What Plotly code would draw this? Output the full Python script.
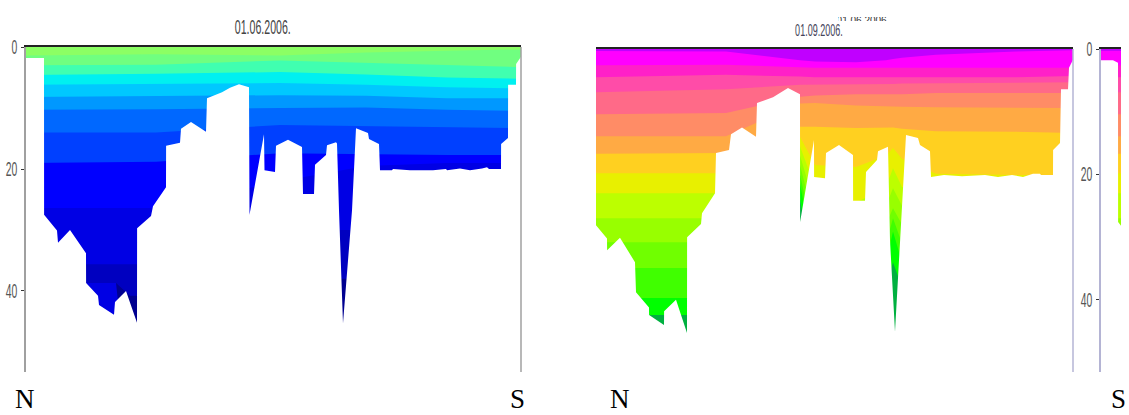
import plotly.graph_objects as go

W, H = 1129, 415

# ---------- data ----------
title_june = "01.06.2006."
title_sept = "01.09.2006."
title_fragment = "01.06.2006."
depth_ticks = [0, 20, 40]

# June section: along-track distance and bottom depth
june_dist = [0,18,18.1,31,32,44,60,60.1,72,73,88,89,100,111,111.1,125,127,140,140.1,154,155,165,180,181,196,204,213,223,223.5,238,238.5,249,250,262,276,277,288,289,300,301,310,311,313,317,326,330,342,343,353,354,366,367,384,407,420,421,434,444,456,461,463,475,475.1,482,482.1,490,490.1,495]
june_bottom = [1.8,1.8,27.5,30.1,32.1,30,33.8,38.7,40.8,42.3,43.9,41.8,40,45.2,29.7,27.7,26.1,23,16.2,15.7,13.4,12.3,13.9,8.4,7.4,6.7,6.1,6.6,27.5,14.3,20.2,20.5,16.2,15.2,16.4,24.1,24.1,19.3,17.7,16.1,15.6,15.8,26.8,45.3,26.8,13.3,14.1,15.1,15.9,20.2,20.2,20,20.2,20.2,20,20.2,19.9,20.2,19.9,19.7,20,20,15.9,14.9,6.2,6.2,2.8,1.6]

# June colour bands: lower depth of each band at reference distances
june_band_dist = [0,90,104,130,254,340,421,495]
june_colors = ["#8CFF64","#70FF80","#40FFB0","#00F0F0","#00C8FF","#0098FF","#0068FF","#0040FF","#0000FF","#0000E4","#0000C0","#000090","#0000E4"]
june_bands = [
    [1.4,1.3,1.3,1.2,1.4,0.9,0.6,0.4],
    [3.0,3.0,2.9,2.9,2.2,2.6,3.0,3.3],
    [4.6,4.5,4.4,4.4,4.1,4.5,5.0,5.2],
    [6.2,6.1,6.0,6.0,5.9,6.2,6.6,6.8],
    [8.2,8.1,8.0,8.0,7.9,8.0,8.4,8.4],
    [10.3,10.3,10.2,10.2,10.0,9.9,10.3,10.5],
    [14.0,14.0,14.0,14.0,12.8,13.0,13.1,13.3],
    [19,18.9,18.8,18.8,17.4,17.6,17.7,17.7],
    [26.4,26.4,26.4,26.4,22,19.5,19,19],
    [35.6,35.6,35.6,35.6,30,30,30,30],
    [38.7,38.7,40.8,40.8,38,38,38,38],
    [38.7,38.7,60,60,60,60,60,60],
    [60,60,60,60,60,60,60,60],
]

# September section
sept_dist = [-3,0,11,11.1,24,39,40,53,53.1,68,68.1,80,91,91.1,105,106,119,120,133,135,146,160,161,177,192,204,204.1,218,218.1,229,230,243,257,257.1,269,270,281,282,292,294,299,304,310,322,324,334,335,348,366,389,402,416,427,437,444,445,457,457.1,464,465,472,473,478]
sept_bottom = [28.1,28.1,30.2,32.1,30.1,34,38.8,41.2,42.4,44,41.8,40,45.3,30,27.9,26.2,23,16.6,16.1,13.6,12.5,14,8.6,7.7,6.2,7.2,27.6,14.5,20.4,20.6,16.6,15.3,16.9,24.2,24.2,19.6,17.7,16.3,15.6,30.5,45.1,30.5,13.7,14.2,15.3,16.3,20.4,20.1,20.3,20.1,20.4,20.1,20.4,19.9,19.9,20.1,20.1,16.1,15,6.4,6.4,3.0,1.4]

sept_band_dist = [0,130,204,219,260,290,297,306,340,420,477]
sept_colors = ["#C000FF","#FF00FF","#FF20C8","#FF4CA8","#FF6A88","#FF8C66","#FFAA44","#FFD020","#E8F000","#BCFF00","#98FF00","#70FF00","#40FF00","#00FF00","#00B040"]
sept_bands = [
    [0.3,0.4,1.8,2.0,2.1,1.8,1.6,1.4,0.9,0.4,0.2],
    [2.6,2.5,2.9,3.0,3.0,3.0,3.0,3.0,3.0,3.0,3.0],
    [4.5,4.1,4.4,4.5,4.5,4.5,4.5,4.5,4.5,4.5,4.3],
    [6.9,6.4,5.7,5.7,5.6,5.6,5.6,5.5,5.5,5.4,5.3],
    [10.4,10.2,7.6,7.4,7.2,7.2,7.2,7.2,7.0,7.0,7.0],
    [13.9,13.9,8.7,8.6,9.0,9.2,9.2,9.2,9.3,9.4,9.4],
    [16.7,16.6,12.4,12.4,12.6,12.5,12.5,12.7,13.1,13.2,13.4],
    [19.8,19.8,14.0,18.5,18.8,17.0,15.8,17.5,19.9,20.1,20.1],
    [23,23,15.5,22,24.5,22,19,22,23,23,23],
    [27,27,17,25,27,25,22.2,25,27,27,27],
    [30.8,30.8,18.5,28,30,28,25.4,28,30,30,30],
    [34.9,34.9,20,31,34,31,27,31,34,34,34],
    [39.7,39.7,21.5,34,38,34,29.1,34,38,38,38],
    [42.4,42.4,24,38,42,38,34,38,42,42,42],
    [60,60,60,60,60,60,60,60,60,60,60],
]

# Third, cropped section
third_dist = [0,12,17,17.1,20]
third_bottom = [1.8,1.8,2.2,27.6,28.2]
third_band_dist = [0,20]
third_bands = [[b[0], b[0]] for b in sept_bands]

# ---------- helpers ----------
def fx(px):
    return px / W

def fy(px):
    return 1 - px / H

fig = go.Figure()

def add_section(axis, dist, bottom, band_dist, bands, colors, dmax):
    xa, ya = "x" + axis, "y" + axis
    for lower, col in reversed(list(zip(bands, colors))):
        fig.add_trace(go.Scatter(
            x=list(band_dist) + [band_dist[-1], band_dist[0]],
            y=list(lower) + [0, 0],
            mode="lines", fill="toself", fillcolor=col, line=dict(width=0),
            hoverinfo="skip", showlegend=False, xaxis=xa, yaxis=ya))
    fig.add_trace(go.Scatter(
        x=list(dist) + [dist[-1], dist[0]],
        y=list(bottom) + [dmax + 10, dmax + 10],
        mode="lines", fill="toself", fillcolor="#FFFFFF", line=dict(width=0),
        hoverinfo="skip", showlegend=False, xaxis=xa, yaxis=ya))

add_section("", june_dist, june_bottom, june_band_dist, june_bands, june_colors, 53.28)
add_section("2", sept_dist, sept_bottom, sept_band_dist, sept_bands, sept_colors, 51.5)
add_section("3", third_dist, third_bottom, third_band_dist, third_bands, sept_colors, 51.5)

# clipped text fragment above the September title
fig.add_trace(go.Scatter(x=[0.5], y=[0], mode="text", text=[title_fragment],
                         textfont=dict(family="Liberation Sans", size=10, color="#333333"),
                         textposition="middle center", cliponaxis=True,
                         hoverinfo="skip", showlegend=False, xaxis="x4", yaxis="y4"))

SANS = "Liberation Sans"
SERIF = "Liberation Serif"
hidden_x = dict(showgrid=False, zeroline=False, showticklabels=False, ticks="", automargin=False)
TICK_FONT = dict(family=SANS, size=20, color="#555555")
COMPASS_FONT = dict(family=SERIF, size=27, color="#000000")


def label(text, x, y, font):
    return dict(text=text, xref="paper", yref="paper", x=fx(x), y=fy(y), showarrow=False,
                xanchor="center", yanchor="middle", font=font)


fig.update_layout(
    template="none",
    width=W, height=H, margin=dict(l=0, r=0, t=0, b=0, pad=0), autosize=False,
    paper_bgcolor="white", plot_bgcolor="white", showlegend=False,
    xaxis=dict(domain=[fx(26), fx(521)], range=[0, 495], side="top", showline=True,
               linecolor="#222222", linewidth=2, anchor="y", **hidden_x),
    yaxis=dict(domain=[fy(372), fy(47)], range=[53.28, 0], showgrid=False, zeroline=False,
               showline=True, linecolor="#A0A0A0", linewidth=1.5, anchor="x", automargin=False,
               tickvals=depth_ticks, ticks="outside", ticklen=3, tickcolor="#333333",
               tickfont=TICK_FONT),
    xaxis2=dict(domain=[fx(596), fx(1073)], range=[0, 477], side="top", showline=True,
                linecolor="#222222", linewidth=2, anchor="y2", **hidden_x),
    yaxis2=dict(domain=[fy(372), fy(49)], range=[51.5, 0], showgrid=False, zeroline=False,
                showline=False, showticklabels=False, ticks="", anchor="x2", automargin=False),
    xaxis3=dict(domain=[fx(1101), fx(1121)], range=[0, 20], side="top", showline=True,
                linecolor="#222222", linewidth=2, anchor="y3", **hidden_x),
    yaxis3=dict(domain=[fy(372), fy(49)], range=[51.5, 0], showgrid=False, zeroline=False,
                showline=True, linecolor="#B4B4D4", linewidth=1.5, anchor="x3", automargin=False,
                tickvals=depth_ticks, ticks="outside", ticklen=3, tickcolor="#333333",
                tickfont=TICK_FONT),
    xaxis4=dict(domain=[fx(838), fx(888)], range=[0, 1], visible=False, anchor="y4", automargin=False),
    yaxis4=dict(domain=[fy(21), fy(17)], range=[0, 1], visible=False, anchor="x4", automargin=False),
    shapes=[
        dict(type="line", xref="x domain", yref="y domain", x0=1, x1=1, y0=0, y1=1,
             line=dict(color="#A0A0A0", width=1.5)),
        dict(type="line", xref="x2 domain", yref="y2 domain", x0=1, x1=1, y0=0, y1=1,
             line=dict(color="#B4B4D4", width=1.5)),
    ],
    annotations=[
        label(title_june, 263, 27, dict(family=SANS, size=20, color="#444444")),
        label(title_sept, 819, 31, dict(family=SANS, size=17, color="#44445A")),
        label("N", 25, 398.5, COMPASS_FONT),
        label("S", 517, 398.5, COMPASS_FONT),
        label("N", 620, 398.5, COMPASS_FONT),
        label("S", 1118, 398.5, COMPASS_FONT),
    ],
)

# The labels of the reference are horizontally squeezed: apply that to the real text nodes.
squeeze = """
document.body.style.margin='0';
function squeeze(sel, sx, pivot){
  document.querySelectorAll(sel).forEach(function(el){
    if(el.textContent.trim()==='N'||el.textContent.trim()==='S'){return;}
    var b=el.getBBox();
    var c=pivot==='right'?b.x+b.width:b.x+b.width/2;
    var t=el.getAttribute('transform')||'';
    el.setAttribute('transform',t+' translate('+c+',0) scale('+sx+',1) translate('+(-c)+',0)');
  });
}
squeeze('.annotation-text',0.53,'center');
squeeze('.ytick text',0.52,'right');
squeeze('.y3tick text',0.52,'right');
"""

fig.write_html("out.html", config={"displayModeBar": False}, post_script=squeeze)
